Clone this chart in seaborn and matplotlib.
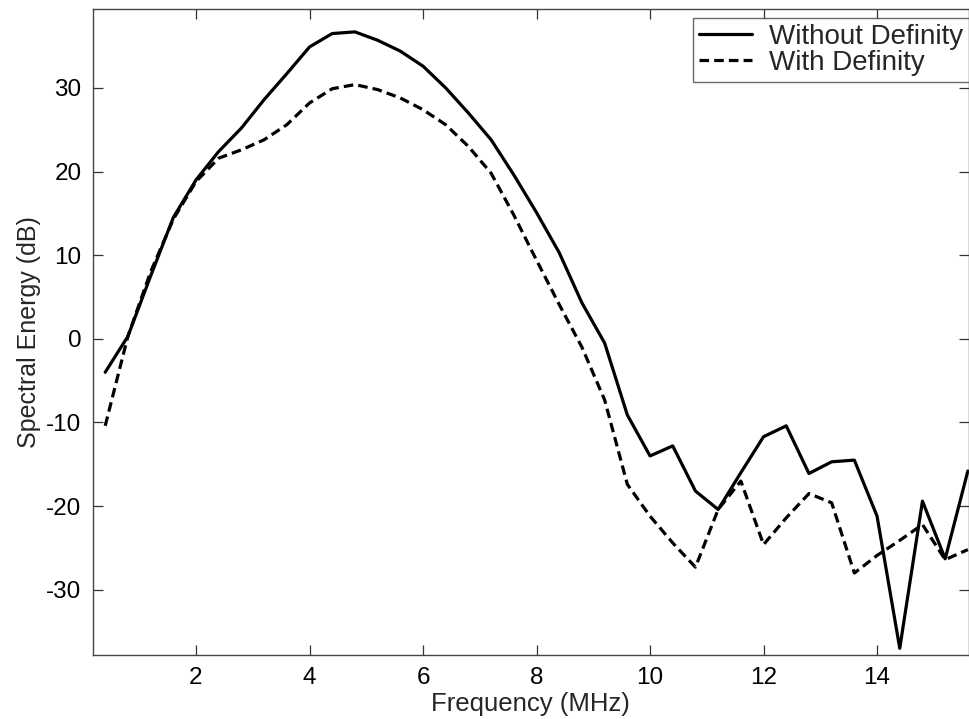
import numpy as np
import pandas as pd
import matplotlib
matplotlib.use("Agg")
import matplotlib.pyplot as plt
import seaborn as sns
from matplotlib.lines import Line2D

freq = [0.4, 0.8, 1.2, 1.6, 2.0, 2.4, 2.8, 3.2, 3.6, 4.0, 4.4, 4.8, 5.2, 5.6, 6.0,
        6.4, 6.8, 7.2, 7.6, 8.0, 8.4, 8.8, 9.2, 9.6, 10.0, 10.4, 10.8, 11.2, 11.6,
        12.0, 12.4, 12.8, 13.2, 13.6, 14.0, 14.4, 14.8, 15.2, 15.6]
without_def = [-4.0, 0.3, 7.5, 14.5, 19.0, 22.4, 25.2, 28.6, 31.7, 34.9, 36.5, 36.7,
               35.7, 34.4, 32.6, 30.0, 27.0, 23.8, 19.6, 15.1, 10.3, 4.3, -0.5, -9.1,
               -14.0, -12.8, -18.2, -20.4, -16.0, -11.7, -10.4, -16.1, -14.7, -14.5,
               -21.2, -37.0, -19.4, -26.3, -15.8]
with_def = [-10.4, 0.3, 8.0, 14.3, 18.8, 21.6, 22.6, 23.8, 25.6, 28.2, 29.9, 30.4,
            29.8, 28.8, 27.4, 25.6, 23.0, 19.8, 14.8, 9.4, 4.1, -1.0, -7.3, -17.4,
            -21.2, -24.4, -27.3, -20.4, -17.0, -24.6, -21.4, -18.5, -19.6, -28.0,
            -25.9, -24.1, -22.2, -26.4, -25.2]
series_names = ["Without Definity", "With Definity"]
x_ticks = [2, 4, 6, 8, 10, 12, 14]
y_ticks = [-30, -20, -10, 0, 10, 20, 30]

df = pd.DataFrame({
    "Frequency": freq * 2,
    "Energy": without_def + with_def,
    "Series": [series_names[0]] * len(freq) + [series_names[1]] * len(freq),
})

sns.set_style("ticks")
plt.rcParams["font.family"] = ["Liberation Sans", "DejaVu Sans"]
plt.rcParams["axes.unicode_minus"] = False

fig = plt.figure(figsize=(9.69, 7.19), dpi=100)
W, H = 969, 719
left, right, top, bottom = 92.7, 969.0, 9.3, 655.0
ax = fig.add_axes([left / W, 1 - bottom / H, (right - left) / W, (bottom - top) / H])

sns.lineplot(data=df, x="Frequency", y="Energy", hue="Series", style="Series",
             palette=["black", "black"], dashes={series_names[0]: "", series_names[1]: (3, 1.6)},
             linewidth=2.3, ax=ax, sort=False, legend=False)

ax.set_xlim(0.18, 15.62)
ax.set_ylim(-37.8, 39.4)
ax.set_xticks(x_ticks)
ax.set_yticks(y_ticks)
ax.tick_params(direction="in", length=7, width=0.9, colors="#333333", labelcolor="black",
               labelsize=17.5, top=True, right=True)
ax.tick_params(axis="y", pad=8)
ax.tick_params(axis="x", pad=9)
for s in ax.spines.values():
    s.set_color("#444444")
    s.set_linewidth(1.0)
    s.set_visible(True)

ax.set_xlabel("Frequency (MHz)", fontsize=18.5, labelpad=2)
ax.set_ylabel("Spectral Energy (dB)", fontsize=18, labelpad=4)

handles = [Line2D([0], [0], color="black", lw=2.3),
           Line2D([0], [0], color="black", lw=2.3, dashes=(3, 1.6))]
leg = ax.legend(handles, series_names, loc="upper right", bbox_to_anchor=(1.0, 0.987),
                fontsize=20, frameon=True, fancybox=False, handlelength=1.9,
                handletextpad=0.6, borderpad=0.22, labelspacing=0.0, borderaxespad=0.0)
leg.get_frame().set_edgecolor("#444444")
leg.get_frame().set_linewidth(1.0)

fig.savefig("out.png", dpi=100)
